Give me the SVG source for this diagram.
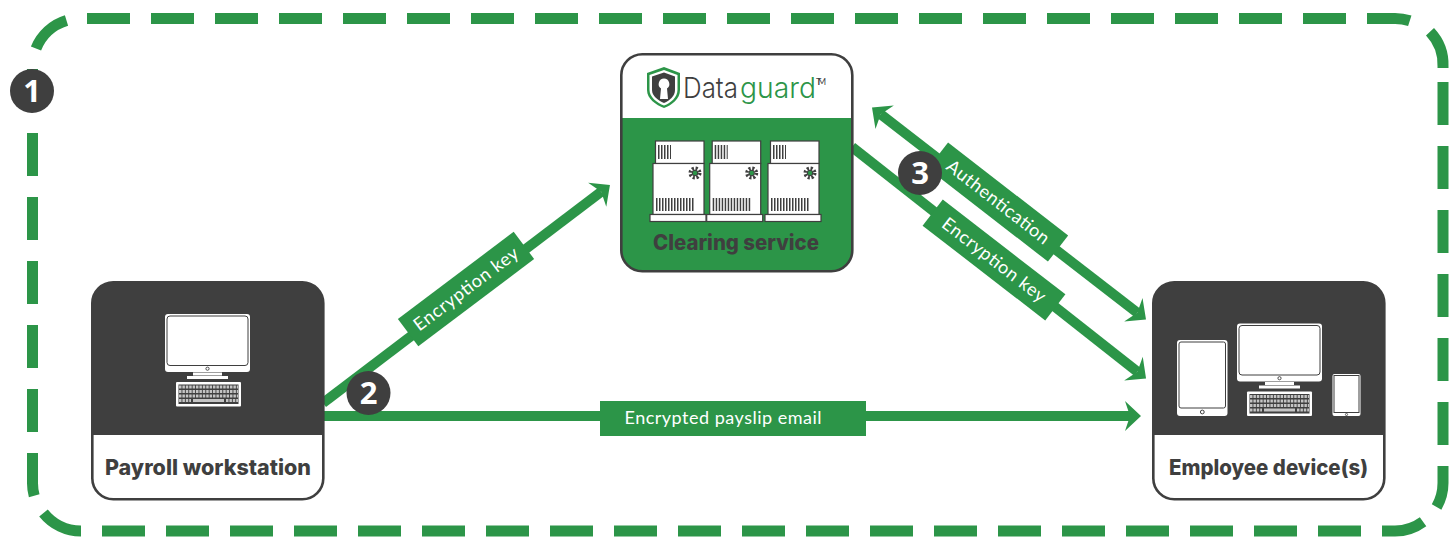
<svg xmlns="http://www.w3.org/2000/svg" xmlns:xlink="http://www.w3.org/1999/xlink" width="1450" height="542" viewBox="0 0 1450 542">
<style>
.g{fill:#2c9548}
.d{fill:#3f3f3f}
.w{fill:#fff}
.card{fill:none;stroke:#3f3f3f;stroke-width:2.6}
.conn{fill:none;stroke:#2c9548;stroke-width:10}
.dash{fill:none;stroke:#2c9548;stroke-width:11;stroke-dasharray:43 21}
.title{font:800 21px Inter,"Liberation Sans",sans-serif;fill:#3f3f3f;text-anchor:middle}
.lab{font:400 18px Lato,"Liberation Sans",sans-serif;fill:#fff;text-anchor:middle}
.num{font:700 31px "Open Sans","Liberation Sans",sans-serif;fill:#fff;text-anchor:middle}
.logo{font:300 29px Inter,"Liberation Sans",sans-serif}
.bar{fill:none;stroke:#3f3f3f;stroke-dasharray:1.5 1.5}
.ol{fill:#fff;stroke:#3f3f3f;stroke-width:1.2}
</style>
<defs>
<marker id="ah" markerUnits="userSpaceOnUse" viewBox="-6 -16 18 32" refX="0" refY="0" markerWidth="18" markerHeight="32" orient="auto-start-reverse">
<path class="g" d="M11,0 L-5,-15 L0,0 L-5,15Z"/>
</marker>
<g id="server">
<rect class="ol" x="655.5" y="141" width="48.5" height="22.5"/>
<rect class="ol" x="653" y="163.5" width="51" height="51"/>
<rect class="ol" x="650" y="214.5" width="56" height="7"/>
<path class="bar" stroke-width="14" d="M658,152H671"/>
<path class="bar" stroke-width="13" d="M656,204.500H694.500"/>
<circle cx="695" cy="173" r="4.800" fill="none" stroke="#3f3f3f" stroke-width="3.400" stroke-dasharray="2.100 1.670"/>
<circle cx="695" cy="173" r="3.200" class="d"/>
<circle cx="695" cy="173" r="2.200" class="g"/>
</g>
<g id="monitor">
<rect class="w" x="0" y="0" width="85" height="58" rx="3"/>
<rect x="2" y="2" width="81" height="49.500" rx="3" class="w" stroke="#3f3f3f" stroke-width="1"/>
<circle cx="42.500" cy="54.700" r="1.600" fill="none" stroke="#3f3f3f" stroke-width="0.900"/>
<rect class="w" x="28" y="58.500" width="29" height="3"/>
<rect class="w" x="22" y="62" width="41" height="3"/>
</g>
<g id="keyboard">
<rect class="w" x="0" y="0" width="65" height="24.500" rx="1"/>
<rect x="2.500" y="2.500" width="60" height="19.500" fill="#3f3f3f"/>
<path d="M3,5H62M3,9.500H62M3,14H62" stroke="#c4c4c4" stroke-width="3" stroke-dasharray="2.500 .9" fill="none"/>
<path d="M3,18.500H15M50,18.500H62" stroke="#c4c4c4" stroke-width="3" stroke-dasharray="2.500 .9" fill="none"/>
<rect x="17" y="17" width="31" height="3" fill="#c4c4c4"/>
</g>
</defs>

<g id="boundary">
<path class="dash" d="M87,18.500H1395A48,48 0 0 1 1412,21.600"/>
<path class="dash" d="M1430,31.700A48,48 0 0 1 1443,66.500V68"/>
<path class="dash" d="M1443,82V483A48,48 0 0 1 1436.600,507"/>
<path class="dash" d="M102,531H1395A48,48 0 0 0 1424,521"/>
<path class="dash" d="M81,531A48,48 0 0 1 43.500,513"/>
<path class="dash" d="M32.500,69V483A48,48 0 0 0 34.200,495.800"/>
<path class="dash" d="M36,48.500A48,48 0 0 1 66.500,20.600"/>
</g>

<g id="connectors">
<path class="conn" d="M323,403L601.200,191.700" marker-end="url(#ah)"/>
<path class="conn" d="M323,416H1130" marker-end="url(#ah)"/>
<path class="conn" d="M880.700,114.200L1137.300,312.800" marker-start="url(#ah)" marker-end="url(#ah)"/>
<path class="conn" d="M852,147L1137.400,371.700" marker-end="url(#ah)"/>
<g id="label-key-1" transform="translate(466 289) rotate(-37)"><rect class="g" x="-72.500" y="-17" width="145" height="34"/><text class="lab" y="6" textLength="126">Encryption key</text></g>
<g id="label-email"><rect class="g" x="600" y="401" width="266" height="35"/><text class="lab" x="723" y="424" textLength="197">Encrypted payslip email</text></g>
<g id="label-auth" transform="translate(998 202) rotate(37.800)"><rect class="g" x="-76" y="-16.500" width="152" height="33"/><text class="lab" y="6" textLength="125">Authentication</text></g>
<g id="label-key-2" transform="translate(994 260) rotate(37.700)"><rect class="g" x="-77.500" y="-16.500" width="155" height="33"/><text class="lab" y="6" textLength="126">Encryption key</text></g>
</g>

<g id="payroll-workstation">
<rect x="92.300" y="282.300" width="231" height="217" rx="21" class="w"/>
<path class="d" d="M92.300,435V303.300A21,21 0 0 1 113.300,282.300H302.300A21,21 0 0 1 323.300,303.300V435Z"/>
<rect class="card" x="92.300" y="282.300" width="231" height="217" rx="21"/>
<use xlink:href="#monitor" href="#monitor" x="165" y="314"/>
<use xlink:href="#keyboard" href="#keyboard" x="176" y="382"/>
<text class="title" x="208" y="474.500" textLength="206" lengthAdjust="spacingAndGlyphs">Payroll workstation</text>
</g>

<g id="clearing-service">
<rect x="621.300" y="54.300" width="231" height="217" rx="21" class="w"/>
<path class="g" d="M621.300,118H852.300V250.300A21,21 0 0 1 831.300,271.300H642.300A21,21 0 0 1 621.300,250.300Z"/>
<rect class="card" x="621.300" y="54.300" width="231" height="217" rx="21"/>
<path class="g" d="M664,67L680,73V90C680,99 672,105 664,108C656,105 647,99 647,90V73Z"/>
<path class="w" d="M664,70L677.500,75V90C677.500,97 671,103 664,105.500C657,103 649.500,97 649.500,90V75Z"/>
<path class="d" d="M664,72.500L675,76.500V90C675,96 670,100.500 664,103C658,100.500 652,96 652,90V76.500Z"/>
<path class="w" d="M664,78.500A5.500,5.500 0 0 1 667,88.500L668,99H660L661,88.500A5.500,5.500 0 0 1 664,78.500Z"/>
<text class="logo" x="683" y="98" textLength="55" lengthAdjust="spacingAndGlyphs" fill="#3f3f3f">Data</text>
<text class="logo" x="740" y="98" textLength="76" lengthAdjust="spacingAndGlyphs" fill="#2c9548">guard</text>
<text x="816" y="85" font-family="Lato,'Liberation Sans',sans-serif" font-size="9" fill="#3f3f3f" textLength="10">TM</text>
<use xlink:href="#server" href="#server"/>
<use xlink:href="#server" href="#server" x="56.700"/>
<use xlink:href="#server" href="#server" x="115"/>
<text class="title" x="736" y="249.500" textLength="166" lengthAdjust="spacingAndGlyphs">Clearing service</text>
</g>

<g id="employee-devices">
<rect x="1153.300" y="282.300" width="231" height="217" rx="21" class="w"/>
<path class="d" d="M1153.300,435V303.300A21,21 0 0 1 1174.300,282.300H1363.300A21,21 0 0 1 1384.300,303.300V435Z"/>
<rect class="card" x="1153.300" y="282.300" width="231" height="217" rx="21"/>
<use xlink:href="#monitor" href="#monitor" x="1237" y="323.500"/>
<use xlink:href="#keyboard" href="#keyboard" x="1247" y="391.500"/>
<rect class="w" x="1177" y="340" width="50.500" height="76" rx="3"/>
<rect x="1179" y="342" width="46.500" height="66" rx="2" class="w" stroke="#3f3f3f" stroke-width="1"/>
<circle cx="1202.300" cy="412" r="1.900" fill="none" stroke="#3f3f3f"/>
<rect class="w" x="1332.500" y="374" width="28" height="42" rx="2"/>
<rect x="1334" y="375.500" width="25" height="37" class="w" stroke="#3f3f3f" stroke-width="1"/>
<circle cx="1346.500" cy="414.500" r="1.100" fill="none" stroke="#3f3f3f" stroke-width=".8"/>
<text class="title" x="1268.500" y="474.500" textLength="199" lengthAdjust="spacingAndGlyphs">Employee device(s)</text>
</g>

<g id="badge-1"><circle class="d" cx="32" cy="91" r="22"/><text class="num" x="32" y="102">1</text></g>
<g id="badge-2"><circle class="d" cx="368.500" cy="393" r="22"/><text class="num" x="368.500" y="404">2</text></g>
<g id="badge-3"><circle class="d" cx="920" cy="173" r="22"/><text class="num" x="920" y="184">3</text></g>
</svg>
